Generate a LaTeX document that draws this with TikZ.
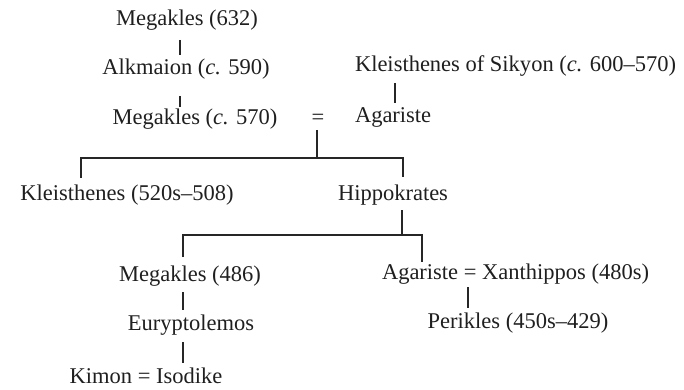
\documentclass[tikz,border=0pt]{standalone}
\usepackage{fontspec}
\setmainfont{Liberation Serif}
\begin{document}
\begin{tikzpicture}[x=1pt,y=-1pt,
  nm/.style={anchor=base,inner sep=0pt,outer sep=0pt,text=black!88,font=\fontsize{22.5}{26}\selectfont},
  nml/.style={nm,anchor=base west},
  ln/.style={line width=1.6pt,black!85}]
\useasboundingbox (0,0) rectangle (684,390);
% nodes
\node[nm] (m632) at (187,26) {Megakles (632)};
\node[nm] (alk) at (186,75) {Alkmaion (\textit{c.} 590)};
\node[nm] (m570) at (195,125) {Megakles (\textit{c.} 570)};
\node[nm] (eq1) at (318,125) {=};
\node[nml] (ksik) at (355,72) {Kleisthenes of Sikyon (\textit{c.} 600–570)};
\node[nml] (aga1) at (355,123) {Agariste};
\node[nm] (kle) at (127,200) {Kleisthenes (520s–508)};
\node[nm] (hip) at (393,200) {Hippokrates};
\node[nm] (m486) at (190,281) {Megakles (486)};
\node[nm] (eur) at (191,330) {Euryptolemos};
\node[nm] (kim) at (146,383) {Kimon = Isodike};
\node[nml] (aga2) at (382,279) {Agariste = Xanthippos (480s)};
\node[nm] (per) at (518,328) {Perikles (450s–429)};
% connector points
\coordinate (c1) at (180,40); \coordinate (c2) at (180,55);
\coordinate (c3) at (180,96); \coordinate (c4) at (180,107);
\coordinate (c5) at (395,83); \coordinate (c6) at (395,103);
\coordinate (e1) at (317,130); \coordinate (e2) at (317,158);
\coordinate (k1) at (81,178); \coordinate (k2) at (81,158);
\coordinate (h1) at (403,158); \coordinate (h2) at (403,177);
\coordinate (s1) at (402,210); \coordinate (s2) at (402,235);
\coordinate (g1) at (183,257); \coordinate (g2) at (183,235);
\coordinate (g3) at (422,235); \coordinate (g4) at (422,262);
\coordinate (d1) at (183,292); \coordinate (d2) at (183,310);
\coordinate (d3) at (183,342); \coordinate (d4) at (183,363);
\coordinate (p1) at (468,287); \coordinate (p2) at (468,308);
% connectors
\draw[ln] (c1) -- (c2);
\draw[ln] (c3) -- (c4);
\draw[ln] (c5) -- (c6);
\draw[ln] (e1) -- (e2);
\draw[ln] (k1) -- (k2) -- (h1) -- (h2);
\draw[ln] (s1) -- (s2);
\draw[ln] (g1) -- (g2) -- (g3) -- (g4);
\draw[ln] (d1) -- (d2);
\draw[ln] (d3) -- (d4);
\draw[ln] (p1) -- (p2);
\end{tikzpicture}
\end{document}
